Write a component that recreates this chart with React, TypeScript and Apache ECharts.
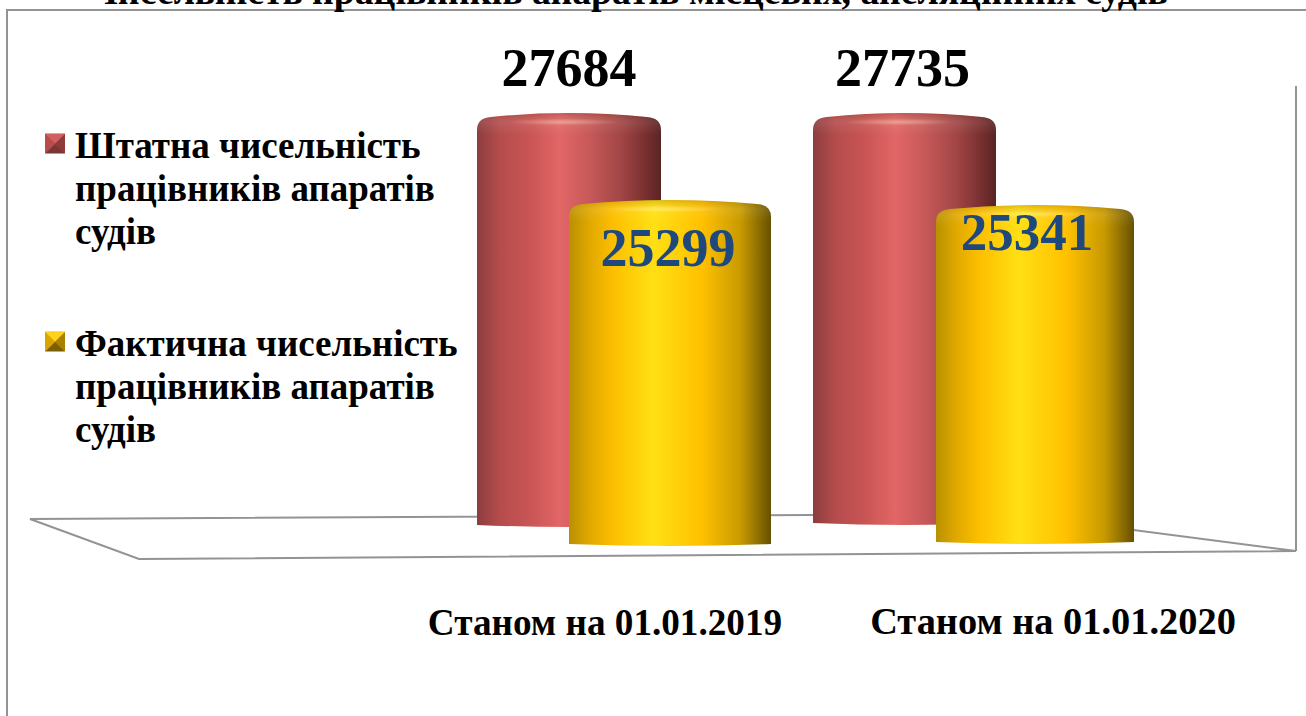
import React, { useEffect, useRef } from "react";
import * as echarts from "echarts";

const titleText = "Чисельність працівників апаратів місцевих, апеляційних судів";
const categories = ["Станом на 01.01.2019", "Станом на 01.01.2020"];
const staffName = "Штатна чисельність\nпрацівників апаратів\nсудів";
const actualName = "Фактична чисельність\nпрацівників апаратів\nсудів";
const staffValues = [27684, 27735];
const actualValues = [25299, 25341];

const FONT = '"Liberation Serif", "Times New Roman", serif';
const AXIS_MAX = 30000;
const LINE = "#939393";

const redStops = [
  { offset: 0, color: "#8b3d3d" }, { offset: 0.12, color: "#b54c4c" }, { offset: 0.28, color: "#c85454" },
  { offset: 0.45, color: "#e26666" }, { offset: 0.6, color: "#c95a5a" }, { offset: 0.78, color: "#a34646" },
  { offset: 0.92, color: "#782f2f" }, { offset: 1, color: "#582424" },
];
const goldStops = [
  { offset: 0, color: "#b89000" }, { offset: 0.1, color: "#e0a800" }, { offset: 0.22, color: "#fdbf00" },
  { offset: 0.42, color: "#ffe014" }, { offset: 0.66, color: "#ffc000" }, { offset: 0.85, color: "#c89a00" },
  { offset: 1, color: "#665000" },
];

// pixel layout of each cylinder in the fake-3D scene (perspective shifts them individually)
const cylinders = [
  { name: staffName, value: staffValues[0], cat: categories[0], left: 477, width: 184, top: 113, base: 525, stops: redStops, labelColor: "#000", labelDx: 0, labelY: 68, fs: 54 },
  { name: staffName, value: staffValues[1], cat: categories[1], left: 813, width: 183, top: 113, base: 523, stops: redStops, labelColor: "#000", labelDx: -2, labelY: 68, fs: 54 },
  { name: actualName, value: actualValues[0], cat: categories[0], left: 569, width: 202, top: 200, base: 544, stops: goldStops, labelColor: "#1F497D", labelDx: -2, labelY: 248, fs: 54 },
  { name: actualName, value: actualValues[1], cat: categories[1], left: 936, width: 198, top: 205, base: 542, stops: goldStops, labelColor: "#1F497D", labelDx: -8, labelY: 232, fs: 53 },
];

function makeRender(c: (typeof cylinders)[number]) {
  return (_p: any, api: any) => {
    const [xc, yTop] = api.coord([0, api.value(1)]);
    const [, yBase] = api.coord([0, 0]);
    const w = api.size([1, 0])[0];
    const x0 = xc - w / 2;
    const x1 = xc + w / 2;
    const body = `M${x0},${yBase}L${x0},${yTop + 17}Q${x0},${yTop + 5} ${x0 + 14},${yTop + 4}Q${xc},${yTop - 4} ${x1 - 14},${yTop + 4}Q${x1},${yTop + 5} ${x1},${yTop + 17}L${x1},${yBase}Q${xc},${yBase + 4} ${x0},${yBase}Z`;
    const cap = `M${x0},${yTop + 22}L${x0},${yTop + 17}Q${x0},${yTop + 5} ${x0 + 14},${yTop + 4}Q${xc},${yTop - 4} ${x1 - 14},${yTop + 4}Q${x1},${yTop + 5} ${x1},${yTop + 17}L${x1},${yTop + 22}Z`;
    return {
      type: "group",
      children: [
        {
          type: "path",
          shape: { pathData: body },
          style: { fill: { type: "linear", x: 0, y: 0, x2: 1, y2: 0, colorStops: c.stops } },
        },
        {
          type: "path",
          shape: { pathData: cap },
          style: {
            fill: {
              type: "linear", x: 0, y: 0, x2: 0, y2: 1,
              colorStops: [
                { offset: 0, color: "rgba(70,30,0,0.18)" },
                { offset: 0.45, color: "rgba(255,255,255,0.08)" },
                { offset: 1, color: "rgba(255,255,255,0)" },
              ],
            },
          },
        },
        {
          type: "ellipse",
          shape: { cx: xc - w * 0.03, cy: yTop + 9, rx: w * 0.3, ry: 3.5 },
          style: {
            fill: {
              type: "radial", x: 0.5, y: 0.5, r: 0.5,
              colorStops: [
                { offset: 0, color: "rgba(255,255,200,0.35)" },
                { offset: 1, color: "rgba(255,255,200,0)" },
              ],
            },
          },
        },
        {
          type: "text",
          z2: 10,
          style: {
            text: String(api.value(1)),
            x: xc + c.labelDx,
            y: c.labelY,
            align: "center",
            verticalAlign: "middle",
            fill: c.labelColor,
            font: `bold ${c.fs}px ${FONT}`,
          },
        },
      ],
    };
  };
}

function bevel(x: number, y: number, s: number, h: number, cols: string[]) {
  const cx = x + s / 2;
  const cy = y + h / 2;
  const tl = [x, y], tr = [x + s, y], br = [x + s, y + h], bl = [x, y + h], m = [cx, cy];
  const tris = [[tl, tr, m], [tr, br, m], [br, bl, m], [bl, tl, m]];
  return tris.map((points, i) => ({ type: "polygon", z: 20, shape: { points }, style: { fill: cols[i] }, silent: true }));
}

function line(points: number[][]) {
  return { type: "polyline", z: 0, shape: { points }, style: { stroke: LINE, lineWidth: 2, fill: "none" }, silent: true };
}

function iconPath() {
  return "path://M0,0L0,0ZM0,9.5L20,9.5L20,29L0,29ZM25,129L25,129Z";
}

export default function App() {
  const ref = useRef<HTMLDivElement>(null);
  useEffect(() => {
    document.body.style.margin = "0";
    const chart = echarts.init(ref.current!, undefined, { renderer: "svg" });
    const grids: any[] = cylinders.map((c) => {
      const h = ((c.base - c.top) * AXIS_MAX) / c.value;
      return { left: c.left, width: c.width, top: c.base - h, height: h };
    });
    grids.push({ left: 381, width: 896, top: 300, height: 280 });
    const xAxes: any[] = cylinders.map((c, i) => ({ type: "category", gridIndex: i, data: [c.cat], show: false }));
    const yAxes: any[] = cylinders.map((_c, i) => ({ type: "value", gridIndex: i, min: 0, max: AXIS_MAX, show: false }));
    xAxes.push({
      type: "category",
      gridIndex: 4,
      data: [
        { value: categories[0], textStyle: { fontSize: 37.2, padding: [2, 0, 0, 0] } },
        { value: categories[1], textStyle: { fontSize: 38.4 } },
      ],
      axisLine: { show: false },
      axisTick: { show: false },
      axisLabel: { color: "#000", fontWeight: "bold", fontFamily: FONT, margin: 22, interval: 0 },
    });
    yAxes.push({ type: "value", gridIndex: 4, show: false });
    chart.setOption({
      animation: false,
      backgroundColor: "#fff",
      title: {
        text: titleText,
        left: 624,
        textAlign: "center",
        top: -33,
        textStyle: { fontFamily: FONT, fontWeight: "bold", fontSize: 37.8, color: "#000" },
      },
      legend: {
        left: 40,
        top: 119,
        orient: "vertical",
        itemWidth: 25,
        itemHeight: 129,
        itemGap: 69,
        selectedMode: false,
        icon: iconPath(),
        data: [
          { name: staffName, itemStyle: { color: "#c0504d" } },
          { name: actualName, itemStyle: { color: "#f0b400" } },
        ],
        textStyle: { fontFamily: FONT, fontWeight: "bold", fontSize: 37, lineHeight: 43, color: "#000" },
      },
      grid: grids,
      xAxis: xAxes,
      yAxis: yAxes,
      series: cylinders.map((c, i) => ({
        type: "custom",
        name: c.name,
        xAxisIndex: i,
        yAxisIndex: i,
        z: i < 2 ? 2 : 3,
        itemStyle: { color: i < 2 ? "#c0504d" : "#f0b400" },
        renderItem: makeRender(c),
        data: [[c.cat, c.value]],
        clip: false,
      })),
      graphic: {
        elements: [
          line([[7, 716], [7, 10], [1306, 10]]),
          line([[1296, 86], [1296, 551]]),
          line([[1010, 514], [30, 519], [139, 559], [1296, 551], [1010, 514]]),
          ...bevel(45, 134, 20, 19.5, ["#cf6060", "#8f3b3b", "#7a3636", "#b84c4c"]),
          ...bevel(45, 332, 20, 19.5, ["#ffd21a", "#a98000", "#7a6000", "#dca400"]),
        ],
      },
    });
    return () => chart.dispose();
  }, []);
  return <div ref={ref} style={{ width: 1306, height: 716 }} />;
}
